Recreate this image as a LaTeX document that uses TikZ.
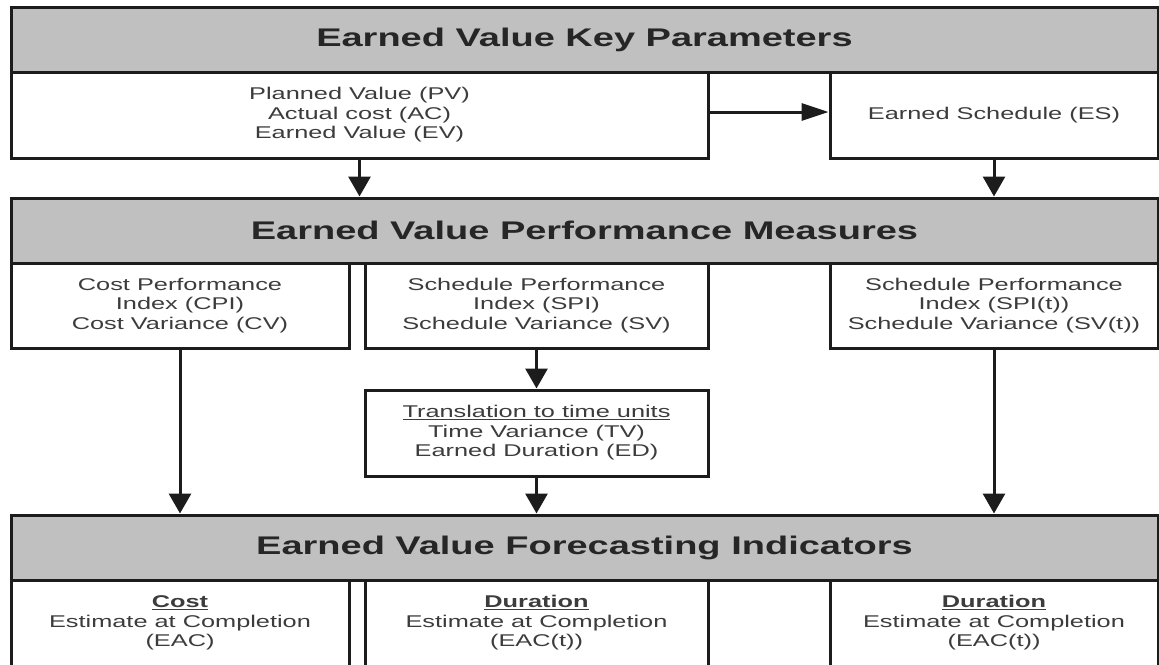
\documentclass[tikz,border=0pt]{standalone}
\usepackage{fontspec}
\setmainfont{Liberation Sans}[FakeStretch=1.49]
\usetikzlibrary{arrows.meta,positioning}
\definecolor{bandgray}{RGB}{192,192,192}
\definecolor{inkline}{RGB}{28,28,28}
\definecolor{inktext}{RGB}{60,60,60}
\tikzset{
	band/.style={draw=inkline,line width=3pt,fill=bandgray,minimum width=1147pt,
		minimum height=65pt,inner sep=0pt,text=black!85,
		font=\bfseries\fontsize{25.5}{30}\selectfont},
	cell/.style={draw=inkline,line width=3pt,fill=white,inner sep=0pt,align=center,
		text=inktext,font=\fontsize{17}{19.5}\selectfont},
	link/.style={line width=3pt,draw=inkline,-{Triangle[length=20pt,width=22pt]}}
}
\begin{document}
\begin{tikzpicture}[line join=miter,x=1pt,y=-1pt]
		\useasboundingbox (0,0) rectangle (1159,664);
		\node[band] (keyband) at (584.5,39.5) {Earned Value Key Parameters};
		\node[cell,minimum width=697pt,minimum height=86pt] (pvbox) at (359.5,115)
		{Planned Value (PV)\\Actual cost (AC)\\Earned Value (EV)};
		\node[cell,minimum width=328pt,minimum height=86pt] (esbox) at (994,115)
		{Earned Schedule (ES)};
		\node[band] (perfband) at (584.5,230.5) {Earned Value Performance Measures};
		\node[cell,minimum width=338pt,minimum height=85pt] (cpibox) at (180,305.5)
		{Cost Performance\\Index (CPI)\\Cost Variance (CV)};
		\node[cell,minimum width=343pt,minimum height=85pt] (spibox) at (536.5,305.5)
		{Schedule Performance\\Index (SPI)\\Schedule Variance (SV)};
		\node[cell,minimum width=328pt,minimum height=85pt] (spitbox) at (994,305.5)
		{Schedule Performance\\Index (SPI(t))\\Schedule Variance (SV(t))};
		\node[cell,minimum width=343pt,minimum height=86pt] (tvbox) at (536.5,433)
		{\underline{Translation to time units}\\Time Variance (TV)\\Earned Duration (ED)};
		\node[band] (foreband) at (584.5,547.5) {Earned Value Forecasting Indicators};
		\node[cell,minimum width=338pt,minimum height=86pt] (eacbox) at (180,623)
		{\textbf{\underline{Cost}}\\Estimate at Completion\\(EAC)};
		\node[cell,minimum width=343pt,minimum height=86pt] (eactbox) at (536.5,623)
		{\textbf{\underline{Duration}}\\Estimate at Completion\\(EAC(t))};
		\node[cell,minimum width=328pt,minimum height=86pt] (eacsbox) at (994,623)
		{\textbf{\underline{Duration}}\\Estimate at Completion\\(EAC(t))};
		\draw[link,-{Triangle[length=27pt,width=17pt]}] ([yshift=3pt]pvbox.east)
		-- ([yshift=3pt]esbox.west); %to ES
		\draw[link] (pvbox.south) -- (pvbox.south |- perfband.north);
		\draw[link] (esbox.south) -- (esbox.south |- perfband.north);
		\draw[link] (cpibox.south) -- (cpibox.south |- foreband.north); %cost
		\draw[link] (spibox.south) -- (tvbox.north);
		\draw[link] (tvbox.south) -- (tvbox.south |- foreband.north);
		\draw[link] (spitbox.south) -- (spitbox.south |- foreband.north); %time
\end{tikzpicture}
\end{document}
